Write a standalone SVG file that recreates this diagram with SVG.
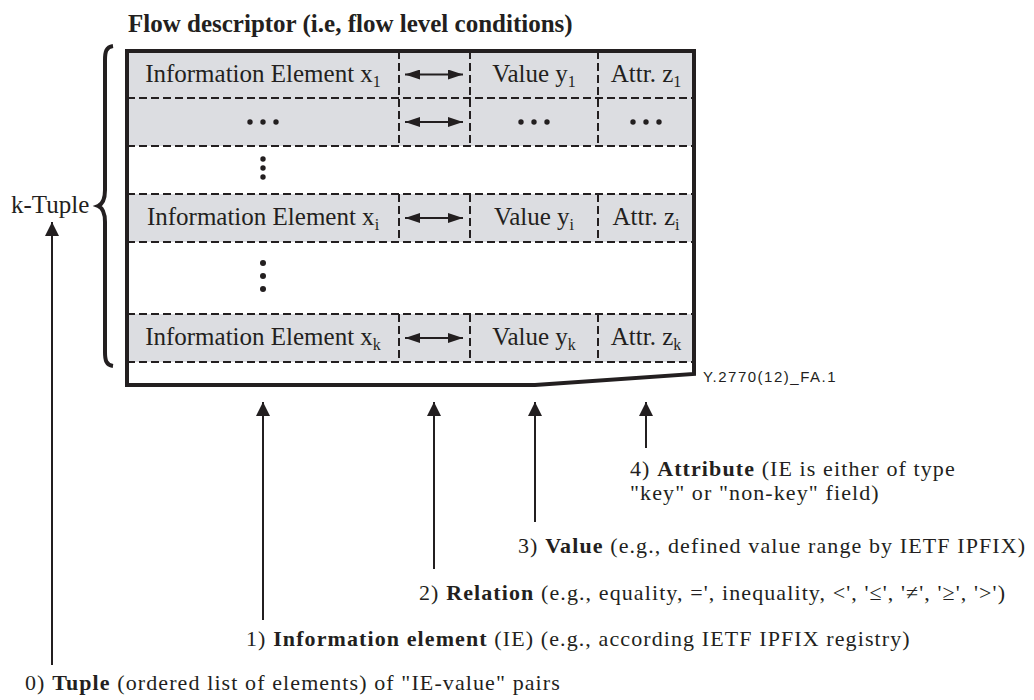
<svg xmlns="http://www.w3.org/2000/svg" width="1034" height="700" viewBox="0 0 1034 700">
<style>
.t{font-family:"Liberation Serif","Times New Roman",serif;fill:#231f20}
.cell{font-size:25px}
.sub{font-size:16px}
.lbl{font-size:22px;letter-spacing:1.1px}
.b{font-weight:bold}
.sans{font-family:"Liberation Sans",Arial,sans-serif;font-size:15px;letter-spacing:1.5px;fill:#231f20}
.dash{stroke:#231f20;stroke-width:2;stroke-dasharray:8,4;fill:none}
.row{fill:#dcdde1}
.ln{stroke:#231f20;stroke-width:2;fill:none}
.dot{fill:#231f20}
</style>
<defs>
<marker id="ah" viewBox="0 0 14 14" refX="14" refY="7" markerWidth="14" markerHeight="14" markerUnits="userSpaceOnUse" orient="auto-start-reverse">
<path d="M0,0 L14,7 L0,14 z" fill="#231f20"/>
</marker>
<marker id="dh" viewBox="0 0 15 10" refX="15" refY="5" markerWidth="15" markerHeight="10" markerUnits="userSpaceOnUse" orient="auto-start-reverse">
<path d="M0,0 L15,5 L0,10 z" fill="#231f20"/>
</marker>
</defs>
<rect width="1034" height="700" fill="#ffffff"/>

<text class="t b" x="128" y="32" font-size="25">Flow descriptor (i.e, flow level conditions)</text>

<g id="table">
<rect class="row" x="127" y="51" width="567" height="95"/>
<rect class="row" x="127" y="194" width="567" height="48"/>
<rect class="row" x="127" y="314" width="567" height="48"/>
<path class="dash" d="M127,98 H694 M127,146 H694 M127,194 H694 M127,242 H694 M127,314 H694 M127,362 H694"/>
<path class="dash" d="M399,51 V146 M470,51 V146 M598,51 V146 M399,194 V242 M470,194 V242 M598,194 V242 M399,314 V362 M470,314 V362 M598,314 V362"/>
<path d="M127,51 H694 V374 L535,385 H127 Z" fill="none" stroke="#231f20" stroke-width="4" stroke-linejoin="miter"/>
</g>

<g id="row1">
<text class="t cell" x="263" y="82" text-anchor="middle">Information Element x<tspan class="sub" dy="5">1</tspan></text>
<line class="ln" x1="405" y1="74.5" x2="463" y2="74.5" marker-start="url(#dh)" marker-end="url(#dh)"/>
<text class="t cell" x="534" y="82" text-anchor="middle">Value y<tspan class="sub" dy="5">1</tspan></text>
<text class="t cell" x="646" y="82" text-anchor="middle">Attr. z<tspan class="sub" dy="5">1</tspan></text>
</g>

<g id="row2">
<circle class="dot" cx="250" cy="122" r="2.7"/><circle class="dot" cx="263" cy="122" r="2.7"/><circle class="dot" cx="276" cy="122" r="2.7"/>
<line class="ln" x1="405" y1="122" x2="463" y2="122" marker-start="url(#dh)" marker-end="url(#dh)"/>
<circle class="dot" cx="521" cy="122" r="2.7"/><circle class="dot" cx="534" cy="122" r="2.7"/><circle class="dot" cx="547" cy="122" r="2.7"/>
<circle class="dot" cx="633" cy="122" r="2.7"/><circle class="dot" cx="646" cy="122" r="2.7"/><circle class="dot" cx="659" cy="122" r="2.7"/>
</g>

<g id="vdots1">
<circle class="dot" cx="263" cy="159" r="2.7"/><circle class="dot" cx="263" cy="168" r="2.7"/><circle class="dot" cx="263" cy="177" r="2.7"/>
</g>

<g id="rowi">
<text class="t cell" x="263" y="225" text-anchor="middle">Information Element x<tspan class="sub" dy="5">i</tspan></text>
<line class="ln" x1="405" y1="218" x2="463" y2="218" marker-start="url(#dh)" marker-end="url(#dh)"/>
<text class="t cell" x="534" y="225" text-anchor="middle">Value y<tspan class="sub" dy="5">i</tspan></text>
<text class="t cell" x="646" y="225" text-anchor="middle">Attr. z<tspan class="sub" dy="5">i</tspan></text>
</g>

<g id="vdots2">
<circle class="dot" cx="263" cy="263" r="3"/><circle class="dot" cx="263" cy="276" r="3"/><circle class="dot" cx="263" cy="289" r="3"/>
</g>

<g id="rowk">
<text class="t cell" x="263" y="345" text-anchor="middle">Information Element x<tspan class="sub" dy="5">k</tspan></text>
<line class="ln" x1="405" y1="338" x2="463" y2="338" marker-start="url(#dh)" marker-end="url(#dh)"/>
<text class="t cell" x="534" y="345" text-anchor="middle">Value y<tspan class="sub" dy="5">k</tspan></text>
<text class="t cell" x="646" y="345" text-anchor="middle">Attr. z<tspan class="sub" dy="5">k</tspan></text>
</g>

<g id="brace">
<path d="M113,46 C106,47 105,52 105,60 V190 C105,199 103,204 98,206 C103,208 105,213 105,222 V352 C105,360 106,365 113,366" fill="none" stroke="#231f20" stroke-width="4"/>
<text class="t cell" x="11" y="213">k-Tuple</text>
</g>

<text class="sans" x="703" y="382">Y.2770(12)_FA.1</text>

<g id="connectors">
<line class="ln" x1="52" y1="665" x2="52" y2="222" marker-end="url(#ah)"/>
<line class="ln" x1="263" y1="620" x2="263" y2="402" marker-end="url(#ah)"/>
<line class="ln" x1="434" y1="569" x2="434" y2="402" marker-end="url(#ah)"/>
<line class="ln" x1="535" y1="522" x2="535" y2="402" marker-end="url(#ah)"/>
<line class="ln" x1="646" y1="448" x2="646" y2="402" marker-end="url(#ah)"/>
</g>

<g id="label4">
<text class="t lbl" x="630" y="476">4) <tspan class="b">Attribute</tspan> (IE is either of type</text>
<text class="t lbl" x="630" y="500">"key" or "non-key" field)</text>
</g>
<g id="label3">
<text class="t lbl" x="518" y="553">3) <tspan class="b">Value</tspan> (e.g., defined value range by IETF IPFIX)</text>
</g>
<g id="label2">
<text class="t lbl" x="419" y="600">2) <tspan class="b">Relation</tspan> (e.g., equality, =', inequality, &lt;', '≤', '≠', '≥', '&gt;')</text>
</g>
<g id="label1">
<text class="t lbl" x="246" y="646">1) <tspan class="b">Information element</tspan> (IE) (e.g., according IETF IPFIX registry)</text>
</g>
<g id="label0">
<text class="t lbl" x="25" y="690">0) <tspan class="b">Tuple</tspan> (ordered list of elements) of "IE-value" pairs</text>
</g>
</svg>
